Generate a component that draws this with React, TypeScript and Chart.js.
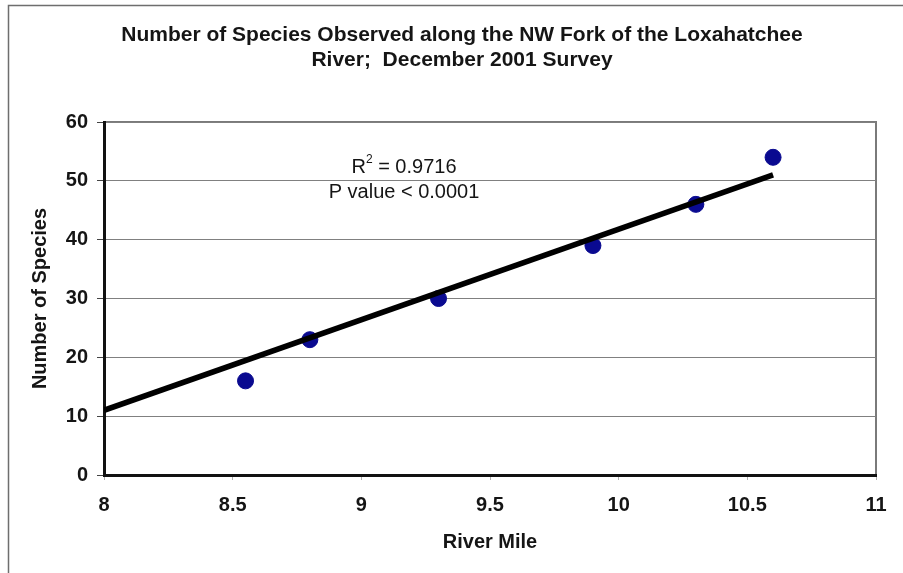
import React, { useEffect, useRef } from "react";
import { Chart, registerables } from "chart.js";

Chart.register(...registerables);

// ---- data ----
const titleLines = [
  "Number of Species Observed along the NW Fork of the Loxahatchee",
  "River;  December 2001 Survey",
];
const riverMile = [8.55, 8.8, 9.3, 9.9, 10.3, 10.6];
const speciesCount = [16, 23, 30, 39, 46, 54];
const trendX = [8, 10.6];
const trendY = [11, 51];
const xTickLabels = ["8", "8.5", "9", "9.5", "10", "10.5", "11"];
const yTickLabels = ["0", "10", "20", "30", "40", "50", "60"];
const xAxisTitle = "River Mile";
const yAxisTitle = "Number of Species";
const rSquaredValue = "0.9716";
const pValueText = "P value < 0.0001";

const FONT = '"Liberation Sans", Arial, sans-serif';

const decorPlugin = {
  id: "decor",
  beforeDraw(chart: any) {
    const ctx = chart.ctx;
    const { left, top, right, bottom } = chart.chartArea;
    ctx.save();
    ctx.fillStyle = "#ffffff";
    ctx.fillRect(0, 0, chart.width, chart.height);
    // outer frame
    ctx.strokeStyle = "#6e6e6e";
    ctx.lineWidth = 1.5;
    ctx.beginPath();
    ctx.moveTo(8.5, chart.height);
    ctx.lineTo(8.5, 5.5);
    ctx.lineTo(chart.width, 5.5);
    ctx.stroke();
    // plot area frame
    ctx.strokeStyle = "#7a7a7a";
    ctx.lineWidth = 2;
    ctx.strokeRect(left, top, right - left, bottom - top);
    ctx.restore();
  },
  afterDraw(chart: any) {
    const ctx = chart.ctx;
    ctx.save();
    ctx.fillStyle = "#151515";
    ctx.textAlign = "center";
    ctx.textBaseline = "middle";
    ctx.font = `bold 21px ${FONT}`;
    ctx.fillText(titleLines[0], 462, 35);
    ctx.fillText(titleLines[1], 462, 60);

    // annotation
    const cx = 404;
    ctx.font = `20px ${FONT}`;
    ctx.textAlign = "left";
    const rW = ctx.measureText("R").width;
    const restText = " = " + rSquaredValue;
    const restW = ctx.measureText(restText).width;
    ctx.font = `12px ${FONT}`;
    const supW = ctx.measureText("2").width;
    const total = rW + supW + restW;
    let x = cx - total / 2;
    ctx.font = `20px ${FONT}`;
    ctx.fillText("R", x, 167);
    x += rW;
    ctx.font = `12px ${FONT}`;
    ctx.fillText("2", x, 160);
    x += supW;
    ctx.font = `20px ${FONT}`;
    ctx.fillText(restText, x, 167);
    ctx.textAlign = "center";
    ctx.fillText(pValueText, cx, 192);
    ctx.restore();
  },
};

export default function App() {
  const canvasRef = useRef<HTMLCanvasElement | null>(null);

  useEffect(() => {
    if (!canvasRef.current) return;
    const chart = new Chart(canvasRef.current, {
      type: "scatter",
      data: {
        datasets: [
          {
            type: "line",
            label: "Trend",
            data: trendX.map((x, i) => ({ x, y: trendY[i] })),
            borderColor: "#000000",
            borderWidth: 5.5,
            pointRadius: 0,
            fill: false,
            order: 0,
          } as any,
          {
            label: "Species",
            data: riverMile.map((x, i) => ({ x, y: speciesCount[i] })),
            backgroundColor: "#0a0a90",
            borderColor: "#0a0a90",
            pointRadius: 8,
            pointHoverRadius: 8,
            order: 1,
          },
        ],
      },
      plugins: [decorPlugin],
      options: {
        responsive: false,
        animation: false,
        events: [],
        layout: { padding: { top: 122, right: 27, bottom: 0, left: 0 } },
        plugins: {
          legend: { display: false },
          tooltip: { enabled: false },
          title: { display: false },
        },
        scales: {
          x: {
            type: "linear",
            min: 8,
            max: 11,
            afterFit(scale: any) {
              scale.height = 98;
            },
            ticks: {
              stepSize: 0.5,
              padding: 13,
              color: "#151515",
              font: { family: FONT, size: 20, weight: "bold" },
              callback: (_v: any, i: number) => xTickLabels[i],
              maxRotation: 0,
            },
            grid: {
              display: true,
              drawOnChartArea: false,
              tickLength: 5,
              tickColor: "#b0b0b0",
            },
            border: { color: "#111111", width: 3 },
            title: {
              display: true,
              text: xAxisTitle,
              color: "#151515",
              font: { family: FONT, size: 20, weight: "bold" },
              padding: { top: 0, bottom: 19 },
            },
          },
          y: {
            type: "linear",
            min: 0,
            max: 60,
            afterFit(scale: any) {
              scale.width = 104;
            },
            ticks: {
              stepSize: 10,
              padding: 9,
              color: "#151515",
              font: { family: FONT, size: 20, weight: "bold" },
              callback: (_v: any, i: number) => yTickLabels[i],
            },
            grid: {
              color: "#808080",
              lineWidth: 1,
              tickLength: 7,
              tickColor: "#444444",
            },
            border: { color: "#111111", width: 3 },
            title: {
              display: true,
              text: yAxisTitle,
              color: "#151515",
              font: { family: FONT, size: 20, weight: "bold" },
              padding: { top: 28, bottom: 0 },
            },
          },
        },
      },
    });
    return () => chart.destroy();
  }, []);

  return (
    <div style={{ position: "fixed", left: 0, top: 0, width: 903, height: 573, background: "#fff" }}>
      <canvas ref={canvasRef} width={903} height={573} style={{ display: "block" }} />
    </div>
  );
}
